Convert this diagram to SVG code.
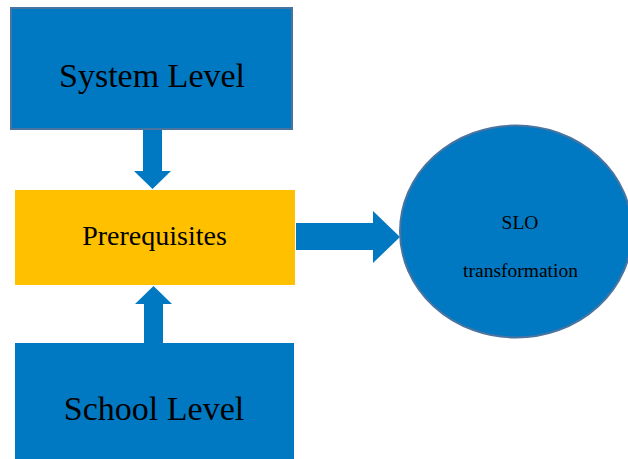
<svg xmlns="http://www.w3.org/2000/svg" width="628" height="459" viewBox="0 0 628 459">
<style>
.blue{fill:#0079C2}
.edge{stroke:#4A74A0;stroke-width:2}
.lbl{fill:#000;text-anchor:middle}
</style>
<rect width="628" height="459" fill="#fff"/>
<g id="connectors">
<polygon class="blue" points="143,130 162,130 162,171 171,171 152.5,189 134,171 143,171"/>
<polygon class="blue" points="144,343 163,343 163,304 172,304 153.5,286 135,304 144,304"/>
<polygon class="blue" points="296,223 373,223 373,211 400,237 373,263 373,250 296,250"/>
</g>
<g font-family="'Liberation Serif', 'DejaVu Serif', serif">
<g id="system">
<rect class="blue edge" x="11" y="8" width="281" height="121"/>
<text class="lbl" x="152" y="87" font-size="34">System Level</text>
</g>
<g id="prereq">
<rect x="15" y="190" width="280" height="95" fill="#FFC000"/>
<text class="lbl" x="154.5" y="245" font-size="28">Prerequisites</text>
</g>
<g id="school">
<rect class="blue" x="15" y="343" width="279" height="120"/>
<text class="lbl" x="154" y="420" font-size="34">School Level</text>
</g>
<g id="slo">
<ellipse class="blue edge" cx="516" cy="231.5" rx="116" ry="106"/>
<text class="lbl" x="520" y="229" font-size="19.5">SLO</text>
<text class="lbl" x="520.5" y="277" font-size="19.5">transformation</text>
</g>
</g>
</svg>
